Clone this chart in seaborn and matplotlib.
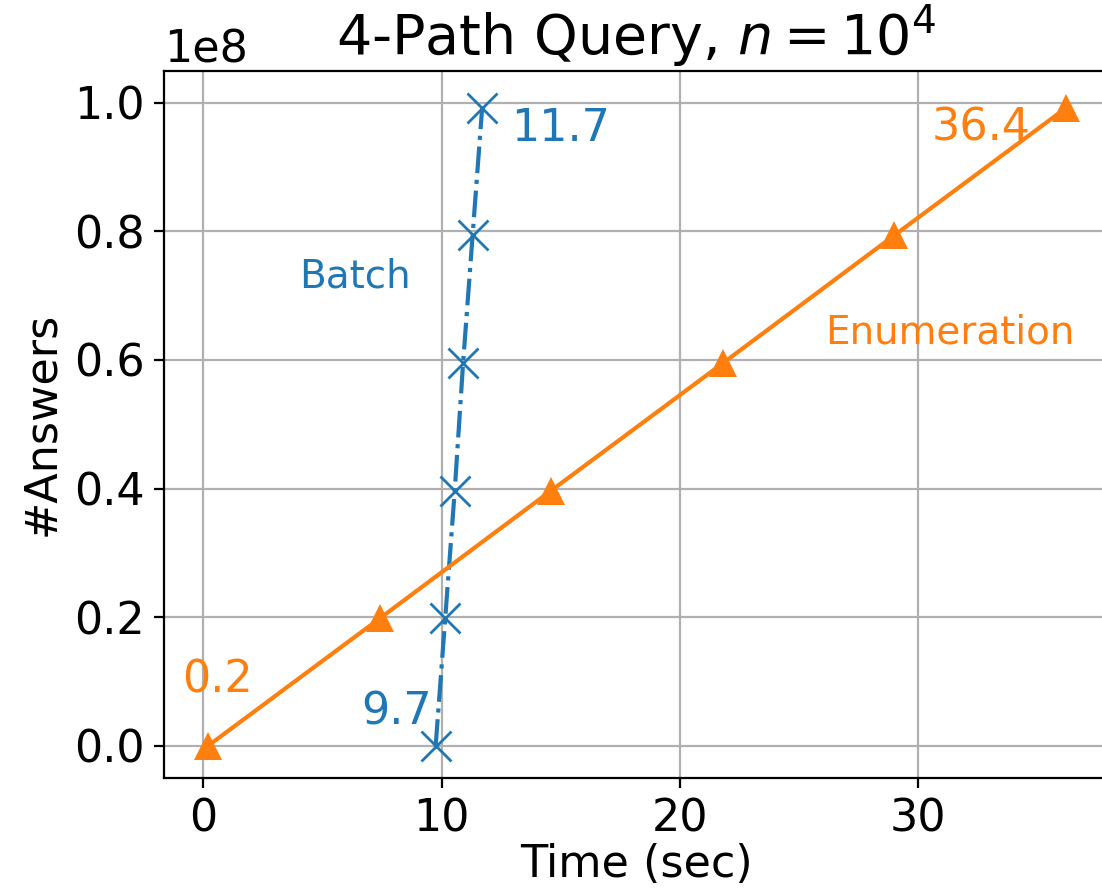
import numpy as np
import matplotlib
matplotlib.use("Agg")
import matplotlib.pyplot as plt
import seaborn as sns

# values
answers = np.array([0.0, 0.198, 0.397, 0.595, 0.794, 0.992]) * 1e8
batch_time = [9.75, 10.15, 10.55, 10.9, 11.3, 11.7]
enum_time = [0.2, 7.4, 14.6, 21.8, 29.0, 36.2]

batch_color = "#1f77b4"
enum_color = "#ff7f0e"

fig = plt.figure(figsize=(5.51, 4.47), dpi=200)
ax = fig.add_axes([0.1488, 0.1298, 0.8575, 0.7912])

sns.lineplot(x=batch_time, y=answers, ax=ax, color=batch_color, marker="x",
             markersize=11, markeredgewidth=1.0, markeredgecolor=batch_color,
             lw=1.5, linestyle="-.")
sns.lineplot(x=enum_time, y=answers, ax=ax, color=enum_color, marker="^",
             markersize=10, markeredgewidth=0, lw=1.5)

ax.set_xlim(-1.65, 38.0)
ax.set_ylim(-0.05e8, 1.05e8)
ax.set_xticks([0, 10, 20, 30])
ax.set_yticks(np.arange(0, 1.01, 0.2) * 1e8)
ax.ticklabel_format(axis="y", style="sci", scilimits=(0, 0))
ax.grid(True, color="#b0b0b0", lw=0.8)
ax.set_axisbelow(True)
ax.tick_params(labelsize=16)
ax.yaxis.get_offset_text().set_fontsize(16)

ax.set_xlabel("Time (sec)", fontsize=16, labelpad=1)
ax.set_ylabel("#Answers", fontsize=16)
ax.set_title(r"4-Path Query, $n=10^4$", fontsize=20)

# end-point annotations
ax.text(12.9, 0.94e8, "11.7", color=batch_color, fontsize=16)
ax.text(9.6, 0.033e8, "9.7", color=batch_color, fontsize=16, ha="right")
ax.text(-0.9, 0.083e8, "0.2", color=enum_color, fontsize=16)
ax.text(30.56, 0.942e8, "36.4", color=enum_color, fontsize=16)
ax.text(4.0, 0.713e8, "Batch", color=batch_color, fontsize=14)
ax.text(26.1, 0.625e8, "Enumeration", color=enum_color, fontsize=14)

fig.savefig("out.png", dpi=200)
